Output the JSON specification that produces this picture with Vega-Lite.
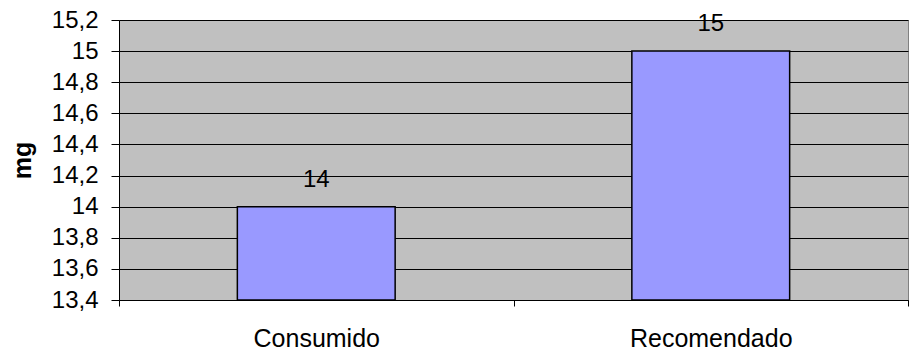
{
  "$schema": "https://vega.github.io/schema/vega-lite/v6.json",
  "autosize": "none",
  "width": 789,
  "height": 280,
  "padding": {"left": 119, "top": 20, "right": 4, "bottom": 51},
  "background": "white",
  "config": {
    "font": "Liberation Sans",
    "view": {"fill": "#C0C0C0", "stroke": "#808080", "strokeWidth": 1}
  },
  "data": {"values": [
    {"categoria": "Consumido", "mg": 14},
    {"categoria": "Recomendado", "mg": 15}
  ]},
  "encoding": {
    "x": {
      "field": "categoria", "type": "nominal", "sort": null,
      "scale": {"paddingInner": 0, "paddingOuter": 0},
      "axis": {
        "title": null, "labelAngle": 0, "labelFontSize": 25, "labelColor": "black",
        "labelPadding": 20, "domainColor": "black", "domainWidth": 1,
        "tickColor": "black", "tickSize": 6, "tickBand": "extent", "grid": false
      }
    },
    "y": {
      "field": "mg", "type": "quantitative",
      "scale": {"domain": [13.4, 15.2], "zero": false, "nice": false},
      "axis": {
        "title": "mg", "titleFontSize": 25, "titleFontWeight": "bold", "titleColor": "black",
        "titlePadding": 16,
        "values": [13.4, 13.6, 13.8, 14, 14.2, 14.4, 14.6, 14.8, 15, 15.2],
        "labelOverlap": false,
        "labelExpr": "replace(format(datum.value, '.2~f'), '.', ',')",
        "labelFontSize": 24, "labelColor": "black", "labelPadding": 13,
        "tickColor": "black", "tickSize": 8, "domainColor": "black",
        "grid": true, "gridColor": "black", "gridWidth": 1, "gridOpacity": 1
      }
    }
  },
  "layer": [
    {
      "mark": {"type": "bar", "width": {"band": 0.4}, "fill": "#9999FF", "stroke": "black", "strokeWidth": 1.5, "clip": true},
      "encoding": {
        "y2": {"datum": 13.4}
      }
    },
    {
      "mark": {"type": "text", "fontSize": 24, "color": "black", "baseline": "alphabetic", "dy": -20},
      "encoding": {
        "text": {"field": "mg", "type": "quantitative"}
      }
    }
  ]
}
